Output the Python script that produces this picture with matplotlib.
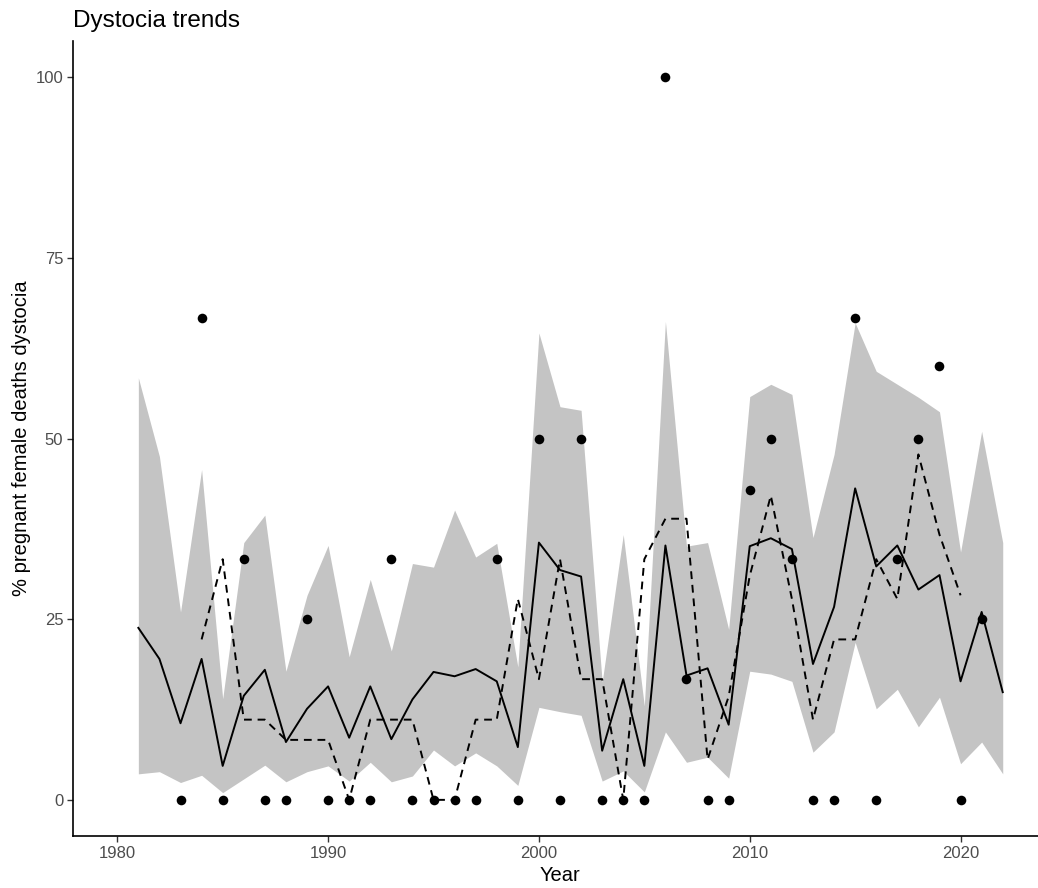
import numpy as np
import matplotlib.pyplot as plt

plt.rcParams['font.family'] = ['Liberation Sans', 'DejaVu Sans']

# yearly observed % of pregnant female deaths attributed to dystocia
obs_years = [1983, 1984, 1985, 1986, 1987, 1988, 1989, 1990, 1991, 1992,
             1993, 1994, 1995, 1996, 1997, 1998, 1999, 2000, 2001, 2002,
             2003, 2004, 2005, 2006, 2007, 2008, 2009, 2010, 2011, 2012,
             2013, 2014, 2015, 2016, 2017, 2018, 2019, 2020, 2021]
obs_pct = [0, 66.7, 0, 33.3, 0, 0, 25, 0, 0, 0,
           33.3, 0, 0, 0, 0, 33.3, 0, 50, 0, 50,
           0, 0, 0, 100, 16.7, 0, 0, 42.9, 50, 33.3,
           0, 0, 66.7, 0, 33.3, 50, 60, 0, 25]

# model fit with its interval
fit_years = list(range(1981, 2023))
fit_mean = [23.8, 19.5, 10.6, 19.5, 4.7, 14.4, 18.0, 8.0, 12.6, 15.7,
            8.6, 15.7, 8.4, 13.9, 17.7, 17.1, 18.1, 16.4, 7.3, 35.6,
            31.8, 30.9, 6.8, 16.7, 4.7, 35.2, 17.2, 18.2, 10.4, 35.1,
            36.2, 34.7, 18.8, 26.7, 43.1, 32.3, 35.2, 29.1, 31.1, 16.4,
            26.0, 14.9]
fit_upper = [58.4, 47.5, 26.0, 45.7, 14.0, 35.6, 39.4, 17.8, 28.3, 35.2,
             19.8, 30.5, 20.6, 32.7, 32.2, 40.1, 33.6, 35.5, 18.4, 64.6,
             54.4, 53.9, 16.3, 36.7, 13.0, 66.2, 35.1, 35.6, 23.6, 55.8,
             57.5, 56.1, 36.3, 47.8, 66.0, 59.3, 57.5, 55.7, 53.7, 34.3,
             51.0, 35.6]
fit_lower = [3.6, 3.9, 2.4, 3.4, 1.0, 2.9, 4.8, 2.5, 3.9, 4.7,
             2.6, 5.2, 2.5, 3.3, 6.9, 4.7, 6.5, 4.7, 2.0, 12.8,
             12.2, 11.7, 2.6, 4.0, 1.1, 9.4, 5.2, 5.9, 3.0, 17.8,
             17.4, 16.4, 6.6, 9.4, 21.8, 12.6, 15.3, 10.1, 14.2, 5.0,
             8.0, 3.6]

# 3-year running mean
roll_years = list(range(1984, 2021))
roll_pct = [22.2, 33.3, 11.1, 11.1, 8.3, 8.3, 8.3, 0, 11.1, 11.1,
            11.1, 0, 0, 11.1, 11.1, 27.8, 16.7, 33.3, 16.7, 16.7,
            0, 33.3, 38.9, 38.9, 5.6, 14.3, 31.0, 42.1, 27.8, 11.1,
            22.2, 22.2, 33.3, 27.8, 47.8, 36.7, 28.3]

fig = plt.figure(figsize=(10.38, 8.88), dpi=100)
ax = fig.add_axes([73 / 1038, 1 - 836 / 888, (1047 - 73) / 1038, (836 - 41) / 888])

ax.fill_between(fit_years, fit_lower, fit_upper, color='#C4C4C4', lw=0, zorder=1)
ax.plot(fit_years, fit_mean, color='black', lw=1.4, zorder=2)
ax.plot(roll_years, roll_pct, color='black', lw=1.4, ls=(0, (4, 3)), zorder=2)
ax.scatter(obs_years, obs_pct, s=48, color='black', lw=0, zorder=3)

ax.set_xlim(1977.9, 2024.1)
ax.set_ylim(-5, 105)
ax.set_xticks([1980, 1990, 2000, 2010, 2020])
ax.set_yticks([0, 25, 50, 75, 100])

for side in ['top', 'right']:
    ax.spines[side].set_visible(False)
for side in ['left', 'bottom']:
    ax.spines[side].set_linewidth(1.2)
ax.tick_params(length=4, width=1.0, color='#333333', labelcolor='#4D4D4D',
               labelsize=12, pad=3)

ax.set_xlabel('Year', fontsize=14.5, labelpad=4)
ax.set_ylabel('% pregnant female deaths dystocia', fontsize=14.5, labelpad=3)
ax.set_title('Dystocia trends', fontsize=17.5, loc='left', pad=10, x=0.0)

fig.savefig('out.png', dpi=100)
